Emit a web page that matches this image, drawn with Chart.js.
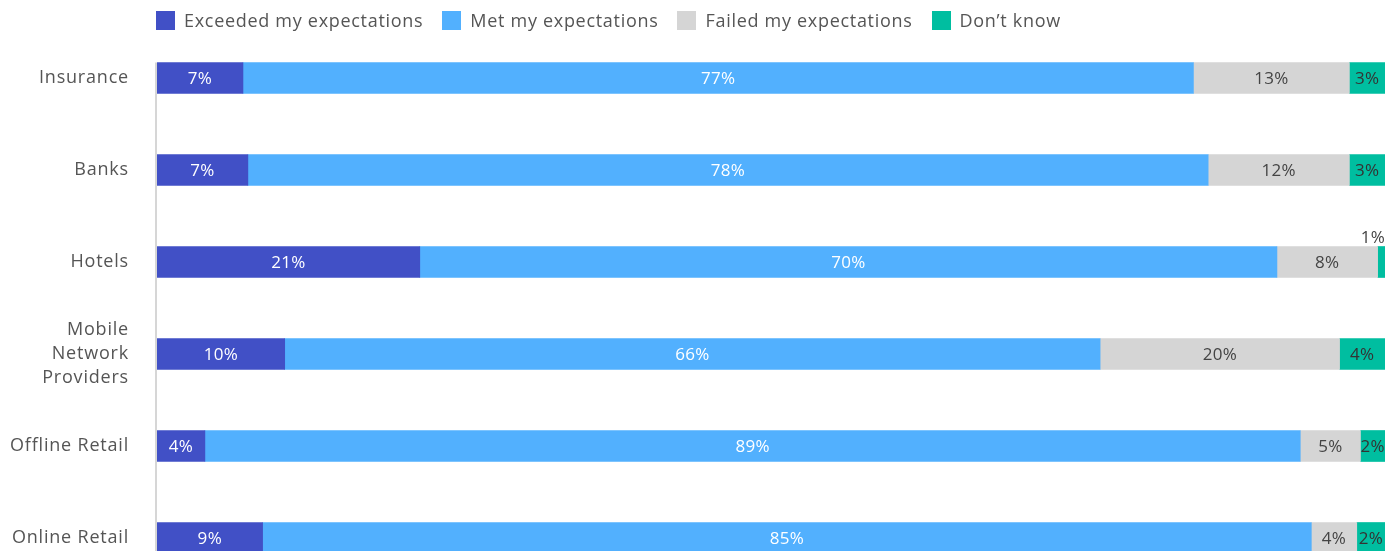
<!DOCTYPE html>
<html>
<head>
<meta charset="utf-8">
<script src="https://cdn.jsdelivr.net/npm/chart.js@4/dist/chart.umd.min.js"></script>
<style>
  html, body { margin: 0; padding: 0; background: #fff; overflow: hidden; }
  #wrap { position: relative; width: 1391px; height: 584px; }
  #c { display: block; width: 1391px; height: 584px; }
  #legend { position: absolute; left: 156px; top: 8px; display: flex; gap: 19px; font-family: "Open Sans", sans-serif; font-size: 18px; letter-spacing: 0.7px; color: #555; z-index: 2; }
  .item { display: flex; align-items: center; white-space: nowrap; }
  .box { width: 19px; height: 19px; margin-right: 9px; }
</style>
</head>
<body>
<div id="wrap">
  <div id="legend"></div>
  <canvas id="c" width="1391" height="584"></canvas>
</div>
<script>
const categories = ["Insurance", "Banks", "Hotels", ["Mobile", "Network", "Providers"], "Offline Retail", "Online Retail"];
const seriesNames = ["Exceeded my expectations", "Met my expectations", "Failed my expectations", "Don\u2019t know"];
const exceeded = [7.0, 7.4, 21.4, 10.4, 3.9, 8.6];
const met      = [77.4, 78.2, 69.8, 66.4, 89.2, 85.4];
const failed   = [12.7, 11.5, 8.2, 19.5, 4.9, 3.7];
const dontKnow = [2.9, 2.9, 0.6, 3.7, 2.0, 2.3];
const colors = ["#4150C6", "#52B0FE", "#D5D5D5", "#00BEA0"];
const labelColors = ["#ffffff", "#ffffff", "#444444", "#333333"];

const seriesData = [exceeded, met, failed, dontKnow];

// HTML legend
const legendEl = document.getElementById('legend');
seriesNames.forEach((n, i) => {
  const it = document.createElement('div'); it.className = 'item';
  const b = document.createElement('div'); b.className = 'box'; b.style.background = colors[i];
  const t = document.createElement('span'); t.textContent = n;
  it.appendChild(b); it.appendChild(t); legendEl.appendChild(it);
});

const FONT = '"Open Sans", sans-serif';

const spacing = {
  id: 'spacing',
  beforeDraw(chart) { chart.ctx.letterSpacing = '0.8px'; }
};

const valueLabels = {
  id: 'valueLabels',
  afterDatasetsDraw(chart) {
    const ctx = chart.ctx;
    ctx.save();
    ctx.letterSpacing = '0.3px';
    ctx.font = '17px ' + FONT;
    chart.data.datasets.forEach((ds, di) => {
      const meta = chart.getDatasetMeta(di);
      meta.data.forEach((bar, i) => {
        const v = ds.data[i];
        const txt = Math.round(v) + '%';
        const left = Math.min(bar.x, bar.base), right = Math.max(bar.x, bar.base);
        const w = right - left;
        if (w < 14) {
          ctx.fillStyle = '#444';
          ctx.textAlign = 'right';
          ctx.textBaseline = 'alphabetic';
          ctx.fillText(txt, right, bar.y - bar.height / 2 - 4);
        } else {
          ctx.fillStyle = labelColors[di];
          ctx.textAlign = 'center';
          ctx.textBaseline = 'middle';
          ctx.fillText(txt, (left + right) / 2, bar.y + 1);
        }
      });
    });
    ctx.restore();
  }
};

const axisLine = {
  id: 'axisLine',
  beforeDatasetsDraw(chart) {
    const meta = chart.getDatasetMeta(0);
    const first = meta.data[0];
    const ctx = chart.ctx;
    ctx.save();
    ctx.strokeStyle = '#d6d6d6';
    ctx.lineWidth = 2;
    const x = chart.chartArea.left;
    ctx.beginPath();
    ctx.moveTo(x - 1, first.y - first.height / 2);
    ctx.lineTo(x - 1, chart.chartArea.bottom);
    ctx.stroke();
    ctx.restore();
  }
};

new Chart(document.getElementById('c'), {
  type: 'bar',
  data: {
    labels: categories,
    datasets: seriesNames.map((n, i) => ({
      label: n,
      data: seriesData[i],
      backgroundColor: colors[i],
      borderWidth: 0,
      barThickness: 31
    }))
  },
  options: {
    indexAxis: 'y',
    responsive: false,
    maintainAspectRatio: false,
    animation: false,
    layout: { padding: { top: 32, right: 6, left: 0, bottom: 0 } },
    plugins: { legend: { display: false }, tooltip: { enabled: false } },
    scales: {
      x: { stacked: true, min: 0, max: 100, display: false },
      y: {
        stacked: true,
        grid: { display: false, drawTicks: false },
        border: { display: false },
        ticks: { color: '#555', font: { family: FONT, size: 18, lineHeight: 1.35 }, padding: 28 },
        afterFit(scale) { scale.width = 157; scale.paddingTop = 0; scale.paddingBottom = 0; }
      }
    }
  },
  plugins: [spacing, axisLine, valueLabels]
});
</script>
</body>
</html>
